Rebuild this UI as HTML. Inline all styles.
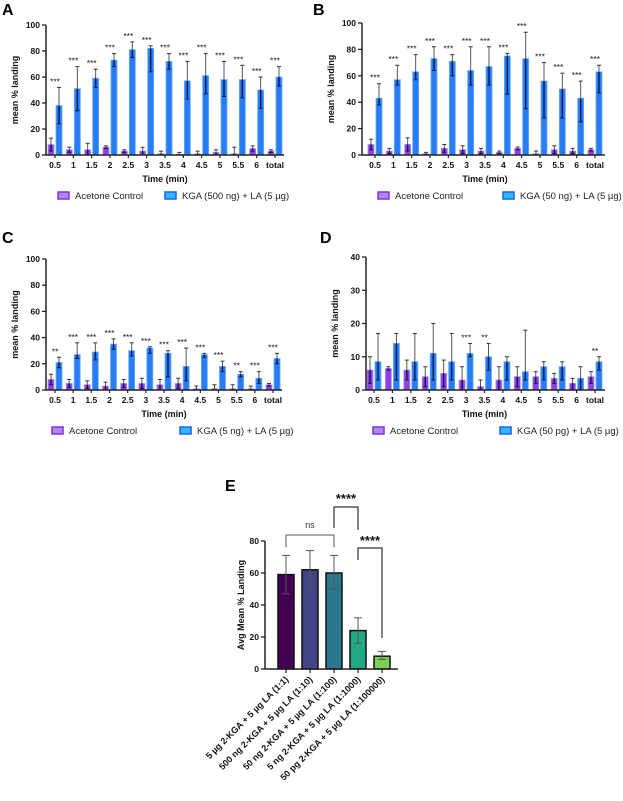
<!DOCTYPE html>
<html><head><meta charset="utf-8">
<style>
body{margin:0;background:#fff;}
svg{display:block;font-family:"Liberation Sans",sans-serif;}
.tk{font-size:8.5px;font-weight:bold;fill:#111;}
.tke{font-size:9px;font-weight:bold;fill:#111;}
.st{font-size:8.5px;fill:#111;}
.lg{font-size:9.5px;fill:#222;}
.ttl{font-size:9px;font-weight:bold;fill:#111;}
.let{font-size:16px;font-weight:bold;fill:#000;}
</style></head>
<body>
<svg id="fig" width="623" height="801" viewBox="0 0 623 801" xmlns="http://www.w3.org/2000/svg"></svg>
<script>
const categories=["0.5","1","1.5","2","2.5","3","3.5","4","4.5","5","5.5","6","total"];
// Panel A
const aKga=[38,51,59,73,81,82,72,57,61,58,58,50,60];
const aKgaHi=[52,68,66,78,87,84,78,72,78,72,69,60,68];
const aKgaLo=[24,34,52,68,75,64,66,43,47,45,44,36,53];
const aCtl=[8,4,4,6,3,3,1,0.5,1,2,1,5,3];
const aCtlHi=[13,6,9,7,4,6,3,2,3,4,6,7,4];
const aCtlLo=[3,2,0,5,2,0,0,0,0,0,0,3,2];
const aStars=["***","***","***","***","***","***","***","***","***","***","***","***","***"];
// Panel B
const bKga=[43,57,63,73,71,64,67,75,73,56,50,43,63];
const bKgaHi=[54,68,76,82,76,82,82,77,93,70,62,56,68];
const bKgaLo=[38,53,57,64,60,53,53,46,35,28,28,25,47];
const bCtl=[8,3,8,1,5,4,3,2,5,1,4,3,4];
const bCtlHi=[12,5,13,2,8,7,5,3,6,3,7,5,5];
const bCtlLo=[4,1,3,0,2,1,1,1,4,0,1,1,3];
const bStars=["***","***","***","***","***","***","***","***","***","***","***","***","***"];
// Panel C
const cKga=[21,27,29,35,30,32,28,18,27,18,12,9,24];
const cKgaHi=[25,36,36,39,36,33,30,32,28,22,14,14,28];
const cKgaLo=[17,24,23,31,26,28,10,7,25,14,10,5,20];
const cCtl=[8,5,4,3,5,5,4,5,1,1,1,1,4];
const cCtlHi=[12,8,7,6,8,9,8,9,3,4,4,3,5];
const cCtlLo=[4,2,1,0,2,1,0,1,0,0,0,0,3];
const cStars=["**","***","***","***","***","***","***","***","***","***","**","***","***"];
// Panel D
const dKga=[8.5,14,8.5,11,8.5,11,10,8.5,5.5,7,7,3.5,8.5];
const dKgaHi=[17,17,17,20,17,14,14,10,18,8.5,8.5,7,10];
const dKgaLo=[3,3,3,3,3,10,6,3,3,3,3,0,6];
const dCtl=[6,6.5,6,4,5,3,1,3,4,4,3.5,2,4];
const dCtlHi=[10,7,9,7,9,7,3,7,7,5.5,5,3.5,5.5];
const dCtlLo=[2,6,3,1,1,0,0,0,1,2,2,0,2];
const dStars=["","","","","","***","**","","","","","","**"];
// Panel E
const eCats=["5 µg 2-KGA + 5 µg LA (1:1)","500 ng 2-KGA + 5 µg LA (1:10)","50 ng 2-KGA + 5 µg LA (1:100)","5 ng 2-KGA + 5 µg LA (1:1000)","50 pg 2-KGA + 5 µg LA (1:100000)"];
const eVals=[59,62,60,24,8];
const eHi=[71,74,71,32,11];
const eLo=[47,51,50,16,6];
const eTicks=[0,20,40,60,80];

const NS="http://www.w3.org/2000/svg";
const svg=document.getElementById('fig');
function mk(tag,attrs,parent,txt){const e=document.createElementNS(NS,tag);for(const k in attrs)e.setAttribute(k,attrs[k]);if(txt!==undefined)e.textContent=txt;(parent||svg).appendChild(e);return e;}

function panel(o){
  const g=mk('g',{});
  
  
  const y=v=>o.y0-(v/o.ymax)*(o.y0-o.yTop);
  const n=categories.length;
  const x=i=>o.c0+i*(o.c1-o.c0)/(n-1);
  const L=mk('text',{x:o.lx,y:o.ly,class:'let'},g,o.letter);
  
  
  o.ticks.forEach(t=>{
    mk('line',{x1:o.ax-4,x2:o.ax,y1:y(t),y2:y(t),stroke:'#222','stroke-width':1.3},g);
    const tl=mk('text',{x:o.ax-6,y:y(t)+3,class:'tk','text-anchor':'end'},g,t);
    
    
  });
  const yt=mk('text',{x:0,y:0,class:'ttl','text-anchor':'middle',transform:`translate(${o.ax-28},${(o.y0+o.yTop)/2}) rotate(-90)`},g,'mean % landing');
  
  
  const bw=6;
  function bar(cx,v,hi,lo,fill,stroke){
    const b=mk('rect',{x:cx-bw/2,y:y(v),width:bw,height:Math.max(0,o.y0-y(v)),fill:fill,stroke:stroke,'stroke-width':0.8},g);
    
    
    mk('line',{x1:cx,x2:cx,y1:y(hi),y2:y(v),stroke:'#555','stroke-width':1},g);
    mk('line',{x1:cx,x2:cx,y1:y(v),y2:y(lo),stroke:'#0a1a50','stroke-width':1.4},g);
    mk('line',{x1:cx-2,x2:cx+2,y1:y(hi),y2:y(hi),stroke:'#333','stroke-width':1},g);
    mk('line',{x1:cx-2,x2:cx+2,y1:y(lo),y2:y(lo),stroke:'#0a1a50','stroke-width':1},g);
  }
  for(let i=0;i<n;i++){
    const cx=x(i);
    bar(cx-4,o.ctl[i],o.ctlHi[i],o.ctlLo[i],'#8f3fe8','#b48cf0');
    bar(cx+4,o.kga[i],o.kgaHi[i],o.kgaLo[i],'#2a7cf5','#5fb0ff');
    if(o.stars[i]){const s=mk('text',{x:cx,y:y(o.kgaHi[i])-3,class:'st','text-anchor':'middle'},g,o.stars[i]);
      
      }
    mk('line',{x1:cx,x2:cx,y1:o.y0,y2:o.y0+3,stroke:'#222','stroke-width':1.2},g);
    const xl=mk('text',{x:cx,y:o.y0+13,class:'tk','text-anchor':'middle'},g,categories[i]);
    
    
  }
  mk('line',{x1:o.ax,x2:o.ax,y1:o.yTop,y2:o.y0,stroke:'#222','stroke-width':1.5},g);
  mk('line',{x1:o.ax,x2:o.axEnd,y1:o.y0,y2:o.y0,stroke:'#222','stroke-width':1.5},g);
  const xt=mk('text',{x:(o.c0+o.c1)/2,y:o.y0+27,class:'ttl','text-anchor':'middle'},g,'Time (min)');
  
  
  const ly=o.y0+41;
  const l1=mk('rect',{x:o.lg1,y:ly-4,width:11,height:7,fill:'#a98be6',stroke:'#8a2be2','stroke-width':1.5},g);
  
  
  const t1=mk('text',{x:o.lg1+17,y:ly+3,class:'lg'},g,'Acetone Control');
  
  
  const l2=mk('rect',{x:o.lg2,y:ly-4,width:11,height:7,fill:'#2fbaff',stroke:'#1a5ff0','stroke-width':1.5},g);
  
  
  const t2=mk('text',{x:o.lg2+17,y:ly+3,class:'lg'},g,o.kgaLabel);
  
  
}
panel({name:'panel-a',letter:'A',lx:2,ly:15,ax:46,axEnd:284,yTop:25,y0:155,ymax:100,ticks:[0,20,40,60,80,100],c0:55,c1:275,
  kga:aKga,kgaHi:aKgaHi,kgaLo:aKgaLo,ctl:aCtl,ctlHi:aCtlHi,ctlLo:aCtlLo,stars:aStars,lg1:58,lg2:165,kgaLabel:'KGA (500 ng) + LA (5 µg)'});
panel({name:'panel-b',letter:'B',lx:313,ly:15,ax:362,axEnd:605,yTop:23,y0:155,ymax:100,ticks:[0,20,40,60,80,100],c0:375,c1:595,
  kga:bKga,kgaHi:bKgaHi,kgaLo:bKgaLo,ctl:bCtl,ctlHi:bCtlHi,ctlLo:bCtlLo,stars:bStars,lg1:378,lg2:503,kgaLabel:'KGA (50 ng) + LA (5 µg)'});
panel({name:'panel-c',letter:'C',lx:2,ly:243,ax:46,axEnd:282,yTop:259,y0:390,ymax:100,ticks:[0,20,40,60,80,100],c0:55,c1:273,
  kga:cKga,kgaHi:cKgaHi,kgaLo:cKgaLo,ctl:cCtl,ctlHi:cCtlHi,ctlLo:cCtlLo,stars:cStars,lg1:52,lg2:180,kgaLabel:'KGA (5 ng) + LA (5 µg)'});
panel({name:'panel-d',letter:'D',lx:320,ly:243,ax:366,axEnd:605,yTop:257,y0:390,ymax:40,ticks:[0,10,20,30,40],c0:374,c1:595,
  kga:dKga,kgaHi:dKgaHi,kgaLo:dKgaLo,ctl:dCtl,ctlHi:dCtlHi,ctlLo:dCtlLo,stars:dStars,lg1:373,lg2:500,kgaLabel:'KGA (50 pg) + LA (5 µg)'});

(function(){
  const g=mk('g',{});
  
  
  const ax=265,y0=669,yTop=541,ymax=80,axEnd=398;
  const y=v=>y0-(v/ymax)*(y0-yTop);
  const x0=286,dx=24;
  const x=i=>x0+i*dx;
  const cols=['#440154','#414487','#2a788e','#22a884','#7ad151'];
  const L=mk('text',{x:225,y:491,class:'let'},g,'E');
  
  
  eTicks.forEach(t=>{
    mk('line',{x1:ax-4,x2:ax,y1:y(t),y2:y(t),stroke:'#222','stroke-width':1.3},g);
    const tl=mk('text',{x:ax-6,y:y(t)+3,class:'tk','text-anchor':'end'},g,t);
    
    
  });
  const yt=mk('text',{x:0,y:0,class:'ttl','text-anchor':'middle',transform:`translate(244,${(y0+yTop)/2}) rotate(-90)`},g,'Avg Mean % Landing');
  
  
  eVals.forEach((v,i)=>{
    const cx=x(i);
    const b=mk('rect',{x:cx-8,y:y(v),width:16,height:y0-y(v),fill:cols[i],stroke:'#111','stroke-width':1.5},g);
    
    
    mk('line',{x1:cx,x2:cx,y1:y(eHi[i]),y2:y(eLo[i]),stroke:'#555','stroke-width':1},g);
    mk('line',{x1:cx-4,x2:cx+4,y1:y(eHi[i]),y2:y(eHi[i]),stroke:'#555','stroke-width':1},g);
    mk('line',{x1:cx-4,x2:cx+4,y1:y(eLo[i]),y2:y(eLo[i]),stroke:'#555','stroke-width':1},g);
    mk('line',{x1:cx,x2:cx,y1:y0,y2:y0+4,stroke:'#222','stroke-width':1.2},g);
    const xl=mk('text',{x:0,y:0,class:'tke','text-anchor':'end',transform:`translate(${cx+3},${y0+11}) rotate(-45)`},g,eCats[i]);
    
    
  });
  mk('line',{x1:ax,x2:ax,y1:yTop,y2:y0,stroke:'#222','stroke-width':1.5},g);
  mk('line',{x1:ax,x2:axEnd,y1:y0,y2:y0,stroke:'#222','stroke-width':1.5},g);
  mk('path',{d:`M${x(0)},${y(eHi[0])-8} V535 H${x(2)} V${y(eHi[2])-8}`,fill:'none',stroke:'#555','stroke-width':1},g);
  const ns=mk('text',{x:(x(0)+x(2))/2,y:528,'font-size':'9px','text-anchor':'middle',fill:'#333'},g,'ns');
  
  
  mk('path',{d:`M${x(2)},528 V507 H${x(3)} V530`,fill:'none',stroke:'#333','stroke-width':1.2},g);
  const s1=mk('text',{x:(x(2)+x(3))/2,y:503,'font-size':'13px','font-weight':'bold','text-anchor':'middle',fill:'#111'},g,'****');
  
  
  mk('path',{d:`M${x(3)},560 V548 H${x(4)} V638`,fill:'none',stroke:'#333','stroke-width':1.2},g);
  const s2=mk('text',{x:(x(3)+x(4))/2,y:545,'font-size':'13px','font-weight':'bold','text-anchor':'middle',fill:'#111'},g,'****');
  
  
})();
</script>
</body></html>
